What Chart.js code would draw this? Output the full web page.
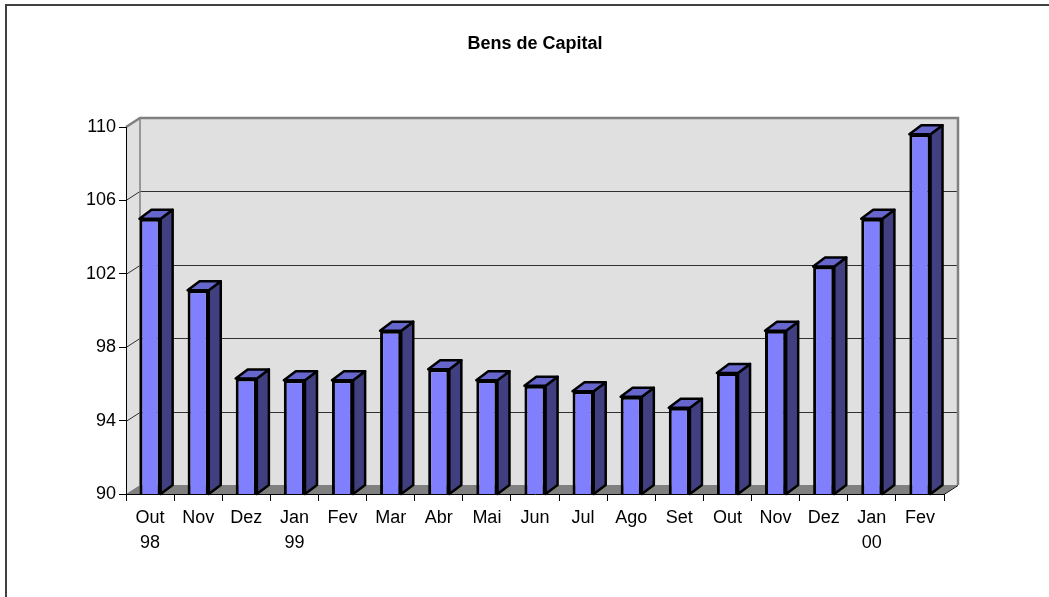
<!DOCTYPE html>
<html>
<head>
<meta charset="utf-8">
<script src="https://cdn.jsdelivr.net/npm/chart.js@4"></script>
<style>
  html, body { margin: 0; padding: 0; background: #fff; }
  #wrap { position: relative; width: 1049px; height: 597px; }
</style>
</head>
<body>
<div id="wrap"><canvas id="chart" width="1049" height="597"></canvas></div>
<script>
// Données
const months = ['Out', 'Nov', 'Dez', 'Jan', 'Fev', 'Mar', 'Abr', 'Mai', 'Jun', 'Jul', 'Ago', 'Set', 'Out', 'Nov', 'Dez', 'Jan', 'Fev'];
const years = ['98', '', '', '99', '', '', '', '', '', '', '', '', '', '', '', '00', ''];
const values = [105.0, 101.1, 96.3, 96.2, 96.2, 98.9, 96.8, 96.2, 95.9, 95.6, 95.3, 94.7, 96.6, 98.9, 102.4, 105.0, 109.6];
const yTicks = [90, 94, 98, 102, 106, 110];

const labels = months.map((m, i) => years[i] ? [m, years[i]] : m);

// décalage de profondeur (effet 3D)
const WALL_DX = 14, WALL_DY = -9;
const BAR_DX = 12, BAR_DY = -9;

const wall3d = {
    id: 'wall3d',
    beforeDraw(chart) {
        const { ctx, chartArea: a, scales } = chart;
        const y = scales.y;
        const L = a.left, R = a.right, T = a.top, B = a.bottom;
        ctx.save();
        // cadre extérieur
        ctx.strokeStyle = '#404040';
        ctx.lineWidth = 2;
        ctx.beginPath();
        ctx.moveTo(6, 700); ctx.lineTo(6, 5); ctx.lineTo(1100, 5);
        ctx.stroke();

        // paroi gauche
        ctx.fillStyle = '#e0e0e0';
        ctx.beginPath();
        ctx.moveTo(L, T); ctx.lineTo(L + WALL_DX, T + WALL_DY);
        ctx.lineTo(L + WALL_DX, B + WALL_DY); ctx.lineTo(L, B);
        ctx.closePath(); ctx.fill();
        // paroi du fond
        ctx.fillRect(L + WALL_DX, T + WALL_DY, R - L, B - T);
        // sol
        ctx.fillStyle = '#808080';
        ctx.beginPath();
        ctx.moveTo(L, B); ctx.lineTo(R, B);
        ctx.lineTo(R + WALL_DX, B + WALL_DY); ctx.lineTo(L + WALL_DX, B + WALL_DY);
        ctx.closePath(); ctx.fill();

        // lignes de grille sur le fond
        ctx.strokeStyle = '#303030';
        ctx.lineWidth = 1;
        yTicks.forEach(v => {
            if (v === yTicks[0] || v === yTicks[yTicks.length - 1]) return;
            const py = Math.round(y.getPixelForValue(v)) + 0.5;
            ctx.beginPath();
            ctx.moveTo(L, py);
            ctx.lineTo(L + WALL_DX, py + WALL_DY);
            ctx.lineTo(R + WALL_DX, py + WALL_DY);
            ctx.stroke();
        });

        // contours des parois
        ctx.strokeStyle = '#808080';
        ctx.lineWidth = 2.5;
        ctx.beginPath();
        ctx.moveTo(L, T); ctx.lineTo(L + WALL_DX, T + WALL_DY);
        ctx.lineTo(R + WALL_DX, T + WALL_DY); ctx.lineTo(R + WALL_DX, B + WALL_DY);
        ctx.stroke();
        ctx.lineWidth = 1.5;
        ctx.beginPath();
        ctx.moveTo(L + WALL_DX, T + WALL_DY); ctx.lineTo(L + WALL_DX, B + WALL_DY);
        ctx.stroke();

        // arête droite du sol
        ctx.strokeStyle = '#000';
        ctx.lineWidth = 1;
        ctx.beginPath();
        ctx.moveTo(R, B + 0.5); ctx.lineTo(R + WALL_DX, B + WALL_DY + 0.5);
        ctx.stroke();
        ctx.restore();
    },
    afterDatasetsDraw(chart) {
        const { ctx, scales } = chart;
        const base = scales.y.getPixelForValue(scales.y.min);
        const meta = chart.getDatasetMeta(0);
        ctx.save();
        ctx.strokeStyle = '#000';
        ctx.lineWidth = 2.5;
        ctx.lineJoin = 'round';
        meta.data.forEach(bar => {
            const { x, y, width } = bar.getProps(['x', 'y', 'width'], true);
            const xl = x - width / 2, xr = x + width / 2;
            // face latérale
            ctx.fillStyle = '#404080';
            ctx.beginPath();
            ctx.moveTo(xr, y); ctx.lineTo(xr + BAR_DX, y + BAR_DY);
            ctx.lineTo(xr + BAR_DX, base + BAR_DY); ctx.lineTo(xr, base);
            ctx.closePath(); ctx.fill(); ctx.stroke();
            // dessus
            ctx.fillStyle = '#6666cc';
            ctx.beginPath();
            ctx.moveTo(xl, y); ctx.lineTo(xl + BAR_DX, y + BAR_DY);
            ctx.lineTo(xr + BAR_DX, y + BAR_DY); ctx.lineTo(xr, y);
            ctx.closePath(); ctx.fill(); ctx.stroke();
        });
        ctx.restore();
    }
};

const tickFont = { family: 'Arial, "Liberation Sans", sans-serif', size: 18, lineHeight: 25 / 18 };

new Chart(document.getElementById('chart'), {
    type: 'bar',
    data: {
        labels: labels,
        datasets: [{
            data: values,
            backgroundColor: '#8080ff',
            borderColor: '#000',
            borderWidth: 3,
            borderSkipped: false,
            barPercentage: 0.44,
            categoryPercentage: 1.0
        }]
    },
    options: {
        responsive: false,
        animation: false,
        layout: { padding: { left: 0, right: 105, top: 0, bottom: 0 } },
        plugins: {
            legend: { display: false },
            tooltip: { enabled: false },
            title: {
                display: true,
                text: 'Bens de Capital',
                fullSize: false,
                color: '#000',
                font: { family: 'Arial, "Liberation Sans", sans-serif', size: 18, weight: 'bold', lineHeight: 1.2 },
                padding: { top: 33, bottom: 127 - 33 - 18 * 1.2 }
            }
        },
        scales: {
            x: {
                grid: { display: true, drawOnChartArea: false, offset: true, tickLength: 7, color: '#000' },
                border: { display: true, color: '#000', width: 1 },
                ticks: { color: '#000', font: tickFont, padding: 5, maxRotation: 0, autoSkip: false },
                afterFit(scale) { scale.height = 597 - 494; }
            },
            y: {
                min: 90,
                max: 110,
                afterBuildTicks(scale) { scale.ticks = yTicks.map(v => ({ value: v })); },
                grid: { display: true, drawOnChartArea: false, tickLength: 7, color: '#000' },
                border: { display: true, color: '#000', width: 1 },
                ticks: { color: '#000', font: tickFont, padding: 3 },
                afterFit(scale) { scale.width = 126; }
            }
        }
    },
    plugins: [wall3d]
});
</script>
</body>
</html>
